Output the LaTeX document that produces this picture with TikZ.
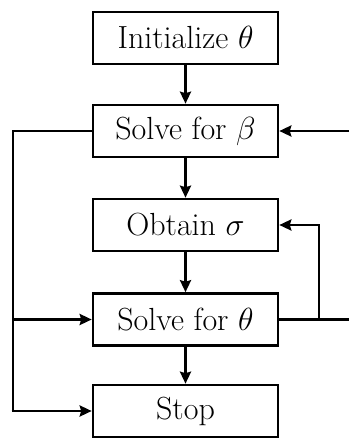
\RequirePackage{fix-cm}
\documentclass[tikz,border=0pt]{standalone}
\usetikzlibrary{arrows.meta,calc}
\begin{document}
\begin{tikzpicture}[x=1pt,y=1pt,
  stepbox/.style={draw, line width=2.6pt, minimum width=185pt, minimum height=52pt,
    inner sep=0pt, font=\fontsize{32}{38}\selectfont},
  flow/.style={line width=2.6pt, -{Stealth[length=12pt,width=11pt,inset=1.5pt]}},
  wire/.style={line width=2.6pt}]
\useasboundingbox (0,0) rectangle (349,-439);
\node[stepbox] (init) at (185.5,-38)  {Initialize $\theta$};
\node[stepbox] (sb)   at (185.5,-131) {Solve for $\beta$};
\node[stepbox] (os)   at (185.5,-225) {Obtain $\sigma$};
\node[stepbox] (st)   at (185.5,-319.5) {Solve for $\theta$};
\node[stepbox] (stop) at (185.5,-411) {Stop};
% main chain
\draw[flow] (init) -- (sb);
\draw[flow] (sb) -- (os);
\draw[flow] (os) -- (st);
\draw[flow] (st) -- (stop);
% left bypass from Solve for beta
\coordinate (ltop) at (13,-131);
\coordinate (lmid) at (13,-319.5);
\coordinate (lbot) at (13,-411);
\draw[wire] (sb.west) -- (ltop) -- (lbot);
\draw[flow] (lmid) -- (st.west);
\draw[flow] ([xshift=-1.3pt]lbot) -- (stop.west);
% right feedback loops
\coordinate (rin) at (349,-131);
\coordinate (rout) at (349,-319.5);
\coordinate (rjoin) at (319,-319.5);
\coordinate (rup) at (319,-225);
\draw[flow] (rin) -- (sb.east);
\draw[wire] (st.east) -- (rout);
\draw[flow] (rjoin) -- (rup) -- (os.east);
\end{tikzpicture}
\end{document}
